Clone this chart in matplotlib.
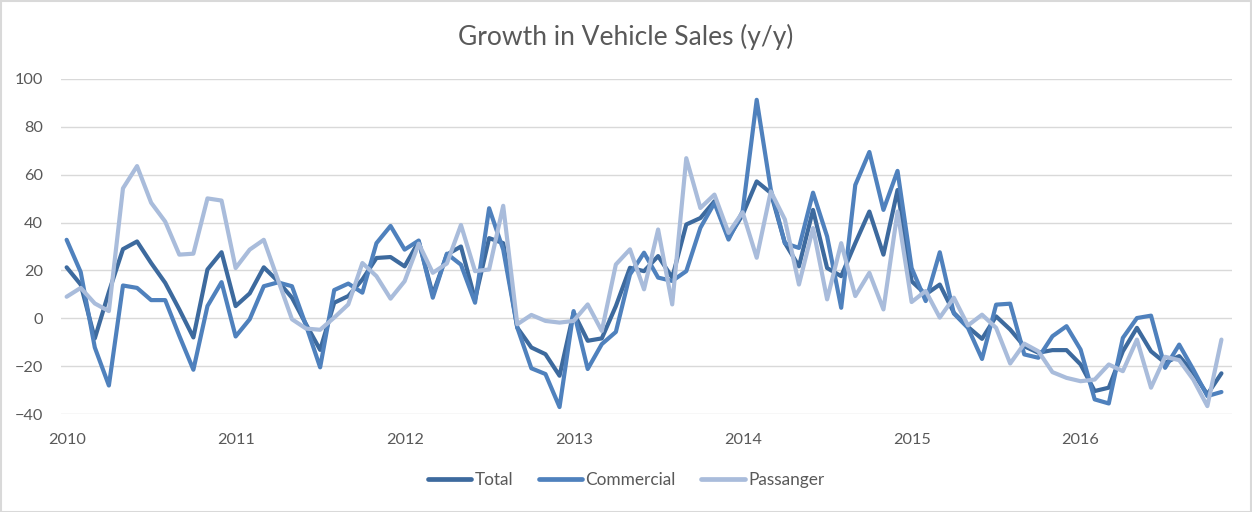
import numpy as np
import matplotlib
matplotlib.use("Agg")
import matplotlib.pyplot as plt
from matplotlib.patches import Rectangle

# ---- data (monthly, Jan 2010 - Nov 2016) ----
years = ["2010", "2011", "2012", "2013", "2014", "2015", "2016"]

total = [21.3, 14.1, -8.4, 11.0, 28.9, 32.1, 23.1, 14.8, 3.7, -8.0, 20.4, 27.6,
         5.1, 10.4, 21.3, 15.5, 8.6, -2.5, -13.2, 6.5, 9.3, 16.2, 25.2, 25.6,
         21.7, 32.1, 10.0, 26.6, 30.0, 7.9, 33.5, 31.4, -3.9, -12.2, -15.0, -24.0,
         2.4, -9.4, -8.4, 5.1, 21.1, 19.7, 26.0, 17.0, 39.2, 41.9, 48.9, 33.6,
         43.3, 57.2, 52.4, 31.5, 21.7, 45.3, 21.0, 17.6, 31.4, 44.6, 26.6, 53.6,
         15.5, 10.0, 14.1, 2.3, -3.6, -8.6, 0.8, -4.7, -11.7, -14.4, -13.3, -13.3,
         -19.3, -30.4, -29.0, -13.8, -4.0, -13.8, -18.6, -15.8, -22.8, -31.8, -23.0]

commercial = [32.8, 19.3, -12.2, -28.1, 13.7, 12.7, 7.6, 7.6, -7.3, -21.5, 5.1, 15.1,
              -7.6, -0.4, 13.4, 15.0, 13.4, -3.0, -20.5, 11.8, 14.5, 10.7, 31.4, 38.6,
              28.7, 32.5, 8.6, 27.0, 22.4, 6.5, 46.0, 28.7, -3.9, -20.9, -23.3, -37.1,
              3.0, -21.2, -10.8, -5.7, 18.3, 27.4, 17.0, 15.6, 19.7, 37.8, 48.2, 32.9,
              44.7, 91.3, 53.8, 31.4, 29.4, 52.5, 34.2, 4.4, 55.7, 69.5, 45.3, 61.6,
              21.0, 7.2, 27.6, 2.0, -4.0, -17.0, 5.7, 6.1, -15.1, -16.5, -7.5, -3.3,
              -13.1, -33.9, -35.6, -8.2, 0.1, 1.1, -20.7, -11.0, -21.4, -32.5, -30.8]

passanger = [9.0, 12.7, 6.2, 3.0, 54.3, 63.6, 48.3, 40.4, 26.6, 27.0, 50.1, 49.2,
             21.0, 28.7, 32.8, 16.2, -0.4, -4.3, -4.8, 0.3, 5.8, 23.1, 17.6, 8.2,
             15.5, 31.2, 19.0, 22.9, 39.0, 19.7, 20.4, 47.0, -2.5, 1.4, -1.1, -1.8,
             -1.1, 5.8, -5.3, 22.5, 28.8, 12.1, 37.1, 5.8, 66.9, 46.1, 51.7, 35.7,
             44.3, 25.3, 53.0, 41.3, 14.1, 37.7, 7.9, 31.4, 9.3, 19.0, 3.7, 44.6,
             6.8, 11.4, 0.3, 8.6, -3.0, 1.5, -4.0, -18.9, -10.6, -13.8, -22.5, -24.9,
             -26.3, -25.6, -19.3, -22.1, -8.9, -29.0, -16.1, -17.5, -25.6, -36.7, -8.9]

series_names = ["Total", "Commercial", "Passanger"]
colors = ["#3D6A9E", "#4F81BD", "#A9BCDB"]

plt.rcParams['font.family'] = ['Lato', 'DejaVu Sans']
TXT = "#595959"
GRID = "#D9D9D9"

W, H = 1252, 512
fig = plt.figure(figsize=(W / 100, H / 100), dpi=100)
ax = fig.add_axes([61 / W, 1 - 414 / H, (1232 - 61) / W, (414 - 79) / H])

x = np.arange(len(total))
for name, vals, c in zip(series_names, [total, commercial, passanger], colors):
    ax.plot(x, vals, color=c, lw=3.0, label=name,
            solid_joinstyle='round', solid_capstyle='round')

ax.set_ylim(-40, 100)
ax.set_yticks(np.arange(-40, 101, 20))
ax.set_xlim(-0.4, 82.75)
ax.set_xticks(np.arange(0, 12 * len(years), 12))
ax.set_xticklabels(years)
ax.grid(axis='y', color=GRID, lw=1.0)
ax.set_axisbelow(True)
for s in ax.spines.values():
    s.set_visible(False)
ax.tick_params(axis='both', length=0, colors=TXT, labelsize=11.7)
ax.tick_params(axis='y', pad=13)
ax.tick_params(axis='x', pad=14)

fig.text(0.5, 1 - 37 / H, "Growth in Vehicle Sales (y/y)", ha='center', va='center',
         fontsize=19, color=TXT)

leg = fig.legend(loc='center', bbox_to_anchor=(0.5, 1 - 480 / H), ncol=3, frameon=False,
                 fontsize=12.4, handlelength=2.5, handletextpad=0.2, columnspacing=1.5)
for t in leg.get_texts():
    t.set_color(TXT)
for l in leg.get_lines():
    l.set_linewidth(3.4)

fig.patches.append(Rectangle((0.5 / W, 0.5 / H), 1 - 1.5 / W, 1 - 1.5 / H,
                             transform=fig.transFigure, fill=False,
                             edgecolor=GRID, lw=1.5))

fig.savefig("out.png", dpi=100)
